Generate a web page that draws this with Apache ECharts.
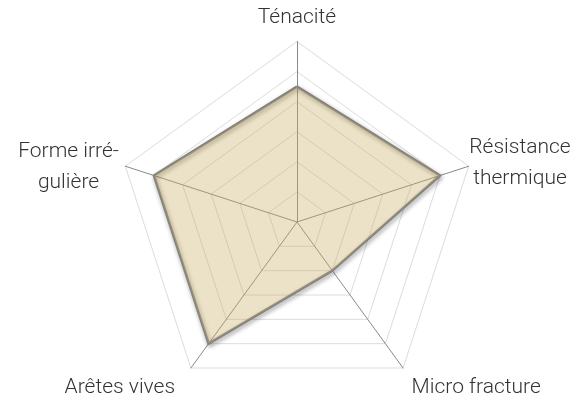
<!DOCTYPE html>
<html>
<head>
<meta charset="utf-8">
<script src="https://cdn.jsdelivr.net/npm/echarts@6/dist/echarts.min.js"></script>
<style>
html,body{margin:0;padding:0;background:#fff;}
#chart{width:587px;height:400px;}
</style>
</head>
<body>
<div id="chart"></div>
<script>
// Indicators in ECharts order (counter-clockwise from top)
const indicatorNames = ['Ténacité', 'Forme irré-\ngulière', 'Arêtes vives', 'Micro fracture', 'Résistance\nthermique'];
const indicatorKeys = ['top', 'left', 'bl', 'br', 'right'];
const maxValue = 6;
const values = [4.5, 5, 5, 2, 5];

const labelStyle = {
  top:   { padding: [0, 0, 0, 0] },
  left:  { padding: [0, 68, 0, 0] },
  bl:    { padding: [0, 114, 0, 0] },
  br:    { padding: [0, 0, 0, 118] },
  right: { padding: [0, 0, 0, 57] }
};
const shiftDown = { top: 0, left: 16, bl: 0, br: 0, right: 8 };
const rich = {};
Object.keys(labelStyle).forEach(k => {
  rich[k] = Object.assign({
    fontSize: 21, fontFamily: 'Roboto', fontWeight: 300, color: '#333', lineHeight: 31
  }, labelStyle[k]);
  rich[k + 'sp'] = { fontSize: 1, lineHeight: shiftDown[k] || 1, height: shiftDown[k] || 1 };
});

const chart = echarts.init(document.getElementById('chart'));
chart.setOption({
  backgroundColor: '#fff',
  animation: false,
  radar: {
    center: [297, 222],
    radius: 180.5,
    startAngle: 90,
    splitNumber: 6,
    shape: 'polygon',
    nameGap: 24,
    indicator: indicatorNames.map(n => ({ name: n, max: maxValue, min: 0 })),
    axisName: {
      align: 'center',
      verticalAlign: 'middle',
      fontSize: 21,
      fontFamily: 'Roboto',
      fontWeight: 300,
      color: '#333',
      lineHeight: 31,
      formatter: function (name) {
        const idx = indicatorNames.indexOf(name);
        const key = indicatorKeys[idx];
        let s = name.split('\n').map(l => '{' + key + '|' + l + '}').join('\n');
        if (shiftDown[key]) s = '{' + key + 'sp| }\n' + s;
        return s;
      },
      rich: rich
    },
    splitLine: { lineStyle: { color: '#dcdcdc', width: 1 } },
    splitArea: { show: false },
    axisLine: { lineStyle: { color: '#8a8a8a', width: 1 } },
    axisTick: { show: false },
    axisLabel: { show: false }
  },
  series: [{
    type: 'radar',
    symbol: 'none',
    data: [{
      value: values,
      lineStyle: {
        color: '#808080',
        width: 2.5,
        shadowBlur: 4,
        shadowColor: 'rgba(0,0,0,0.45)',
        shadowOffsetX: 1,
        shadowOffsetY: 2
      },
      areaStyle: { color: 'rgba(200,172,100,0.5)' }
    }]
  }]
});
</script>
</body>
</html>
